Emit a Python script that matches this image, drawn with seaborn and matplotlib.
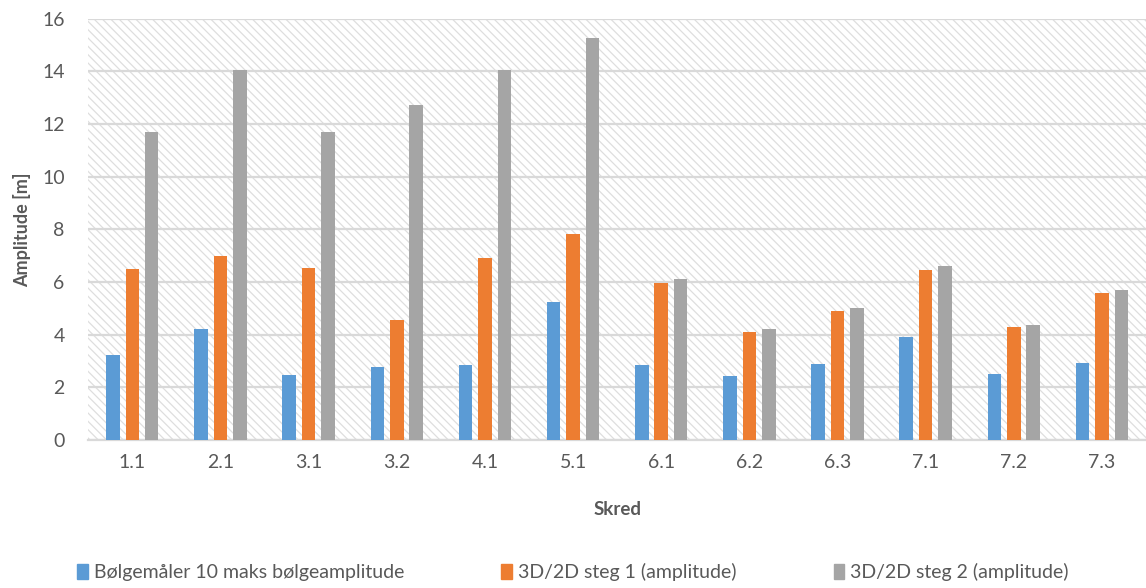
import matplotlib
matplotlib.use("Agg")
import matplotlib.pyplot as plt
import matplotlib.patches as mpatches
import seaborn as sns
import pandas as pd

categories = ["1.1", "2.1", "3.1", "3.2", "4.1", "5.1", "6.1", "6.2", "6.3", "7.1", "7.2", "7.3"]
series_names = [
    "Bølgemåler 10 maks bølgeamplitude",
    "3D/2D steg 1 (amplitude)",
    "3D/2D steg 2 (amplitude)",
]
bolgemaler = [3.24, 4.23, 2.45, 2.76, 2.83, 5.22, 2.83, 2.43, 2.90, 3.90, 2.50, 2.92]
steg1 = [6.51, 6.97, 6.54, 4.56, 6.90, 7.83, 5.96, 4.08, 4.88, 6.46, 4.29, 5.57]
steg2 = [11.71, 14.04, 11.70, 12.74, 14.07, 15.28, 6.10, 4.20, 5.00, 6.60, 4.38, 5.68]
colors = ["#5B9BD5", "#ED7D31", "#A5A5A5"]

df = pd.DataFrame({
    "Skred": categories * 3,
    "Amplitude": bolgemaler + steg1 + steg2,
    "Serie": [s for s in series_names for _ in categories],
})

sns.set_theme(style="white")
plt.rcParams["font.family"] = ["Lato", "DejaVu Sans"]
plt.rcParams["hatch.color"] = "#DEDEDE"
plt.rcParams["hatch.linewidth"] = 0.9

fig = plt.figure(figsize=(11.46, 5.88), dpi=100)
ax = fig.add_axes([0.077, 0.252, 0.923, 0.716])

# hatched plot-area background
ax.add_patch(mpatches.Rectangle((0, 0), 1, 1, transform=ax.transAxes,
                                facecolor="white", edgecolor="#DEDEDE",
                                hatch="\\\\\\\\", linewidth=0, zorder=0))

sns.barplot(data=df, x="Skred", y="Amplitude", hue="Serie",
            hue_order=series_names, palette=colors, order=categories,
            width=0.66, gap=0.3, saturation=1, ax=ax, zorder=3,
            legend=False, linewidth=0)

ax.set_ylim(0, 16)
ax.set_xlim(-0.5, len(categories) - 0.5)
ax.set_yticks(range(0, 17, 2))
ax.yaxis.grid(True, color="#D9D9D9", linewidth=1.6, zorder=1)
ax.set_axisbelow(False)
for line in ax.get_ygridlines():
    line.set_zorder(1)
for s in ["top", "right", "left"]:
    ax.spines[s].set_visible(False)
ax.spines["bottom"].set_color("#D9D9D9")
ax.spines["bottom"].set_linewidth(1.6)
ax.tick_params(axis="y", length=0, labelsize=14, colors="#595959", pad=17)
ax.tick_params(axis="x", length=0, labelsize=14, colors="#595959", pad=10)
ax.set_xlabel("Skred", fontsize=13.5, fontweight="bold", color="#595959", labelpad=22)
ax.set_ylabel("Amplitude [m]", fontsize=13, fontweight="bold", color="#595959", labelpad=8)

handles = [mpatches.Patch(color=c, label=n) for c, n in zip(colors, series_names)]
fig.legend(handles=handles, loc="center", bbox_to_anchor=(0.5, 0.027), ncol=3,
           frameon=False, fontsize=14, handlelength=0.55, handleheight=0.85,
           handletextpad=0.3, columnspacing=5.0, labelcolor="#595959")

fig.savefig("out.png", dpi=100)
